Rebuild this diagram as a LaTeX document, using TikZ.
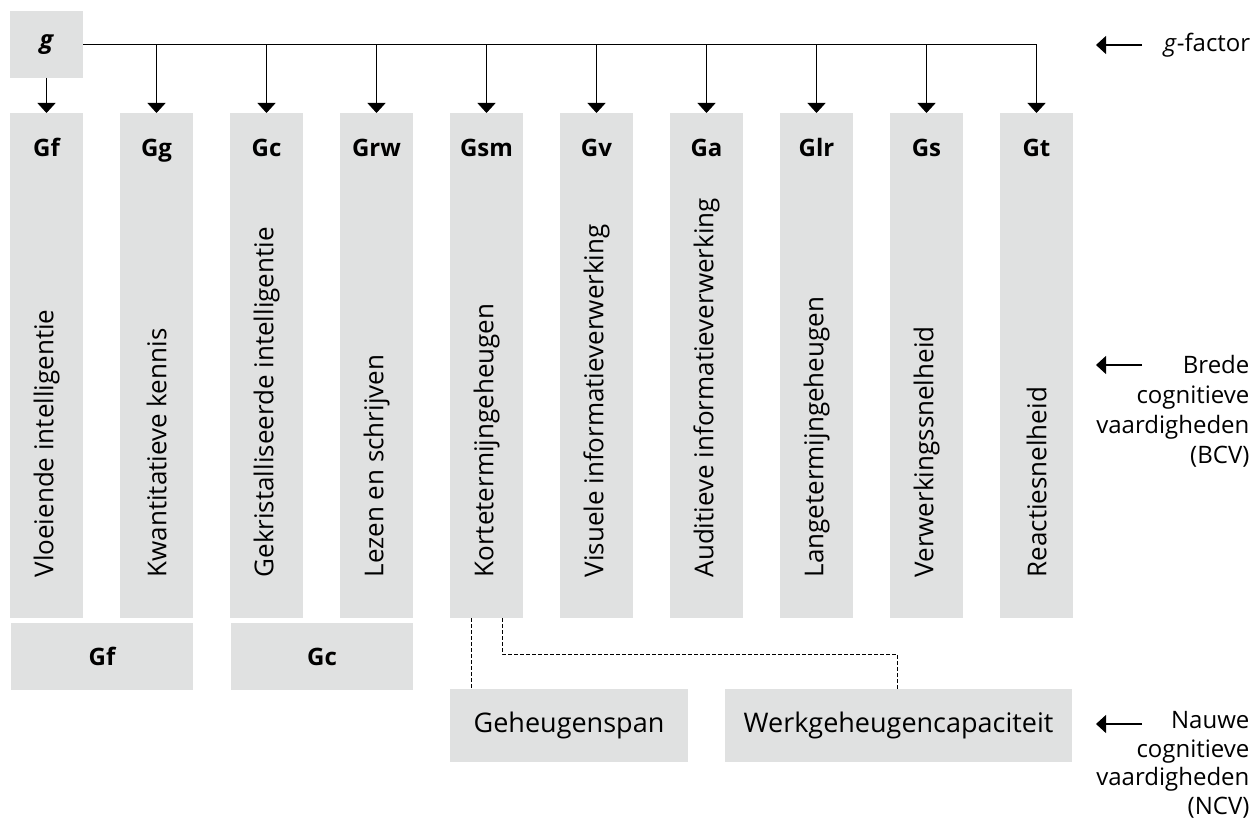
\documentclass[tikz,border=0pt]{standalone}
\usepackage{fontspec}
\setmainfont{Open Sans}
\usetikzlibrary{positioning, arrows.meta}
\definecolor{boxgray}{RGB}{224,225,225}

\begin{document}
\begin{tikzpicture}[x=1pt, y=-1pt, >={Triangle[width=18pt, length=10pt]}, line width=1.2pt,
    box/.style = {fill=boxgray, inner sep=0pt, outer sep=0pt, font=\fontsize{27}{30}\selectfont},
    col/.style = {box, minimum width=73pt, minimum height=505pt},
    hdr/.style = {anchor=base, inner sep=0pt, font=\fontsize{24}{30}\selectfont\bfseries},
    vtxt/.style = {rotate=90, anchor=west, inner sep=0pt, font=\fontsize{26}{30}\selectfont},
    lbl/.style = {inner sep=0pt, align=right},
    dashline/.style = {line width=1pt, dash pattern=on 4pt off 2pt}]
  \useasboundingbox (0,0) rectangle (1260,821);

  % g-factor
  \node[box, minimum width=73pt, minimum height=67pt, font=\fontsize{25}{30}\selectfont] (g) at (46.5,44.5) {\bfseries\itshape g};

  % brede vaardigheden
  \node[col] (gf) at (46.5,365.5) {};
  \node[col, right = 37pt of gf] (gg) {};
  \node[col, right = 37pt of gg] (gc) {};
  \node[col, right = 37pt of gc] (grw) {};
  \node[col, right = 37pt of grw] (gsm) {};
  \node[col, right = 37pt of gsm] (gv) {};
  \node[col, right = 37pt of gv] (ga) {};
  \node[col, right = 37pt of ga] (glr) {};
  \node[col, right = 37pt of glr] (gs) {};
  \node[col, right = 37pt of gs] (gt) {};

  \node[hdr] (hgf) at ([yshift=-44pt]gf.north) {Gf};
  \node[hdr] (hgg) at ([yshift=-44pt]gg.north) {Gg};
  \node[hdr] (hgc) at ([yshift=-44pt]gc.north) {Gc};
  \node[hdr] (hgrw) at ([yshift=-44pt]grw.north) {Grw};
  \node[hdr] (hgsm) at ([yshift=-44pt]gsm.north) {Gsm};
  \node[hdr] (hgv) at ([yshift=-44pt]gv.north) {Gv};
  \node[hdr] (hga) at ([yshift=-44pt]ga.north) {Ga};
  \node[hdr] (hglr) at ([yshift=-44pt]glr.north) {Glr};
  \node[hdr] (hgs) at ([yshift=-44pt]gs.north) {Gs};
  \node[hdr] (hgt) at ([yshift=-44pt]gt.north) {Gt};

  \node[vtxt] (tgf) at ([yshift=40pt]gf.south) {Vloeiende intelligentie};
  \node[vtxt] (tgg) at ([yshift=40pt]gg.south) {Kwantitatieve kennis};
  \node[vtxt] (tgc) at ([yshift=40pt]gc.south) {Gekristalliseerde intelligentie};
  \node[vtxt] (tgrw) at ([yshift=40pt]grw.south) {Lezen en schrijven};
  \node[vtxt] (tgsm) at ([yshift=40pt]gsm.south) {Kortetermijngeheugen};
  \node[vtxt] (tgv) at ([yshift=40pt]gv.south) {Visuele informatieverwerking};
  \node[vtxt] (tga) at ([yshift=40pt]ga.south) {Auditieve informatieverwerking};
  \node[vtxt] (tglr) at ([yshift=40pt]glr.south) {Langetermijngeheugen};
  \node[vtxt] (tgs) at ([yshift=40pt]gs.south) {Verwerkingssnelheid};
  \node[vtxt] (tgt) at ([yshift=40pt]gt.south) {Reactiesnelheid};

  % gegroepeerd
  \node[box, minimum width=182pt, minimum height=67pt, font=\fontsize{24}{30}\selectfont\bfseries] (bgf) at (102,656.5) {Gf};
  \node[box, minimum width=182pt, minimum height=67pt, font=\fontsize{24}{30}\selectfont\bfseries] (bgc) at (322,656.5) {Gc};

  % nauwe vaardigheden
  \node[box, minimum width=238pt, minimum height=73pt] (span) at (569,725.5) {Geheugenspan};
  \node[box, minimum width=347pt, minimum height=73pt] (werk) at (898.5,725.5) {Werkgeheugencapaciteit};

  \draw[->] (g) -- (gf);
  \draw[->] (g.east) -| (gt.north);
  \draw[->] (gg.north |- g.east) -- (gg.north);
  \draw[->] (gc.north |- g.east) -- (gc.north);
  \draw[->] (grw.north |- g.east) -- (grw.north);
  \draw[->] (gsm.north |- g.east) -- (gsm.north);
  \draw[->] (gv.north |- g.east) -- (gv.north);
  \draw[->] (ga.north |- g.east) -- (ga.north);
  \draw[->] (glr.north |- g.east) -- (glr.north);
  \draw[->] (gs.north |- g.east) -- (gs.north);

  \draw[dashline] ([xshift=-15.5pt]gsm.south) -- ([xshift=-15.5pt]gsm.south |- span.north);
  \draw[dashline] ([xshift=15.5pt]gsm.south) -- ++(0,36) -| ([xshift=-1.5pt]werk.north);

  % legenda rechts
  \coordinate (ptg) at (1096,45);
  \coordinate (qtg) at (1142,45);
  \coordinate (ptb) at (1096,365);
  \coordinate (qtb) at (1142,365);
  \coordinate (ptn) at (1096,724);
  \coordinate (qtn) at (1142,724);
  \node[lbl, anchor=west, font=\fontsize{24}{30}\selectfont] (lg) at (1163,45) {\textit{g}-factor};
  \node[lbl, anchor=north east, font=\fontsize{24}{30}\selectfont] (lb) at (1250,355) {Brede\\cognitieve\\vaardigheden\\(BCV)};
  \node[lbl, anchor=north east, font=\fontsize{24}{28.5}\selectfont] (ln) at (1250,711) {Nauwe\\cognitieve\\vaardigheden\\(NCV)};
  \draw[->] (qtg) -- (ptg);
  \draw[->] (qtb) -- (ptb);
  \draw[->] (qtn) -- (ptn);
\end{tikzpicture}
\end{document}
